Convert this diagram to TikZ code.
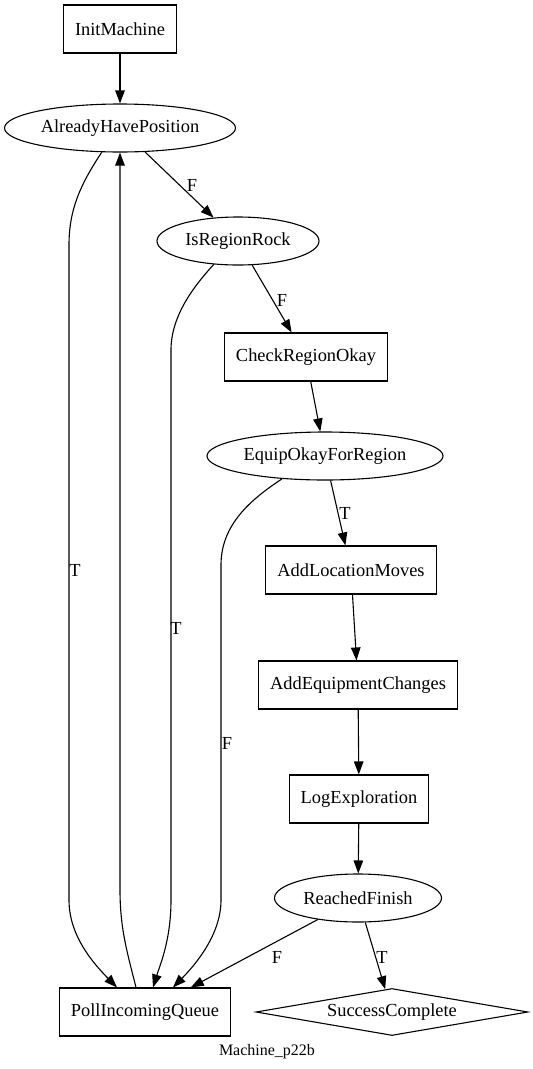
\documentclass[tikz,border=0pt]{standalone}
\usepackage{fontspec}
\setmainfont{Liberation Serif}
\usetikzlibrary{%
  arrows.meta,%
  shapes.geometric,% ellipse, diamond
  calc
}

\begin{document}
\begin{tikzpicture}[
  x=1pt, y=-1pt,
  font=\fontsize{18.4}{22}\selectfont,
  >={Triangle[length=13pt,width=9.5pt]},
  line width=1.1pt,
  box/.style={rectangle, draw=black, inner xsep=11.5pt, inner ysep=2pt, minimum height=48pt},
  state/.style={ellipse, draw=black, inner sep=2pt, minimum height=48pt},
  goal/.style={diamond, draw=black, aspect=5.8, inner sep=0pt, minimum width=272pt, minimum height=47pt},
  lbl/.style={inner sep=0pt}
]

\useasboundingbox (0,0) rectangle (533,1069);

\node[box] (init) at (120,29) {InitMachine};
\node[state, minimum width=231pt] (ahp) at (120,128) {AlreadyHavePosition};
\node[state, minimum width=162pt] (irr) at (238,241) {IsRegionRock};
\node[box] (cro) at (306,357) {CheckRegionOkay};
\node[state, minimum width=236pt] (eofr) at (325,456) {EquipOkayForRegion};
\node[box] (alm) at (351,570) {AddLocationMoves};
\node[box] (aec) at (358,685) {AddEquipmentChanges};
\node[box] (loge) at (359,799) {LogExploration};
\node[state, minimum width=167pt] (rf) at (358,898) {ReachedFinish};
\node[box] (poll) at (145,1012) {PollIncomingQueue};
\node[goal] (succ) at (392,1012) {SuccessComplete};
\node[lbl, font=\fontsize{16}{18}\selectfont] (title) at (267,1052) {Machine\_p22b};

\draw[->] (init) -- (ahp);
\draw[->] (ahp) -- (irr);
\draw[->] (irr) -- (cro);
\draw[->] (cro) -- (eofr);
\draw[->] (eofr) -- (alm);
\draw[->] (alm) -- (aec);
\draw[->] (aec) -- (loge);
\draw[->] (loge) -- (rf);
\draw[->] (rf) -- (poll);
\draw[->] (rf) -- (succ);

\draw[->] (ahp.233) .. controls (80,185) and (69,210) .. (69,245) -- (69,900)
  .. controls (69,935) and (92,962) .. ([xshift=-28pt]poll.north);
\draw[->] ([xshift=-9pt]poll.north) .. controls (128,955) and (120,930) .. (120,890) -- (ahp.south);
\draw[->] (irr.224) .. controls (195,285) and (171,315) .. (171,350) -- (171,900)
  .. controls (171,940) and (160,965) .. ([xshift=8pt]poll.north);
\draw[->] (eofr.208) .. controls (250,500) and (221,525) .. (221,565) -- (221,900)
  .. controls (221,935) and (195,965) .. ([xshift=28pt]poll.north);

\node[lbl] (fAhp) at (192,185) {F};
\node[lbl] (tAhp) at (75,570) {T};
\node[lbl] (fIrr) at (282,300) {F};
\node[lbl] (tIrr) at (176,628) {T};
\node[lbl] (tEofr) at (345,513) {T};
\node[lbl] (fEofr) at (227,743) {F};
\node[lbl] (fRf) at (277,957) {F};
\node[lbl] (tRf) at (382,957) {T};

\end{tikzpicture}
\end{document}
